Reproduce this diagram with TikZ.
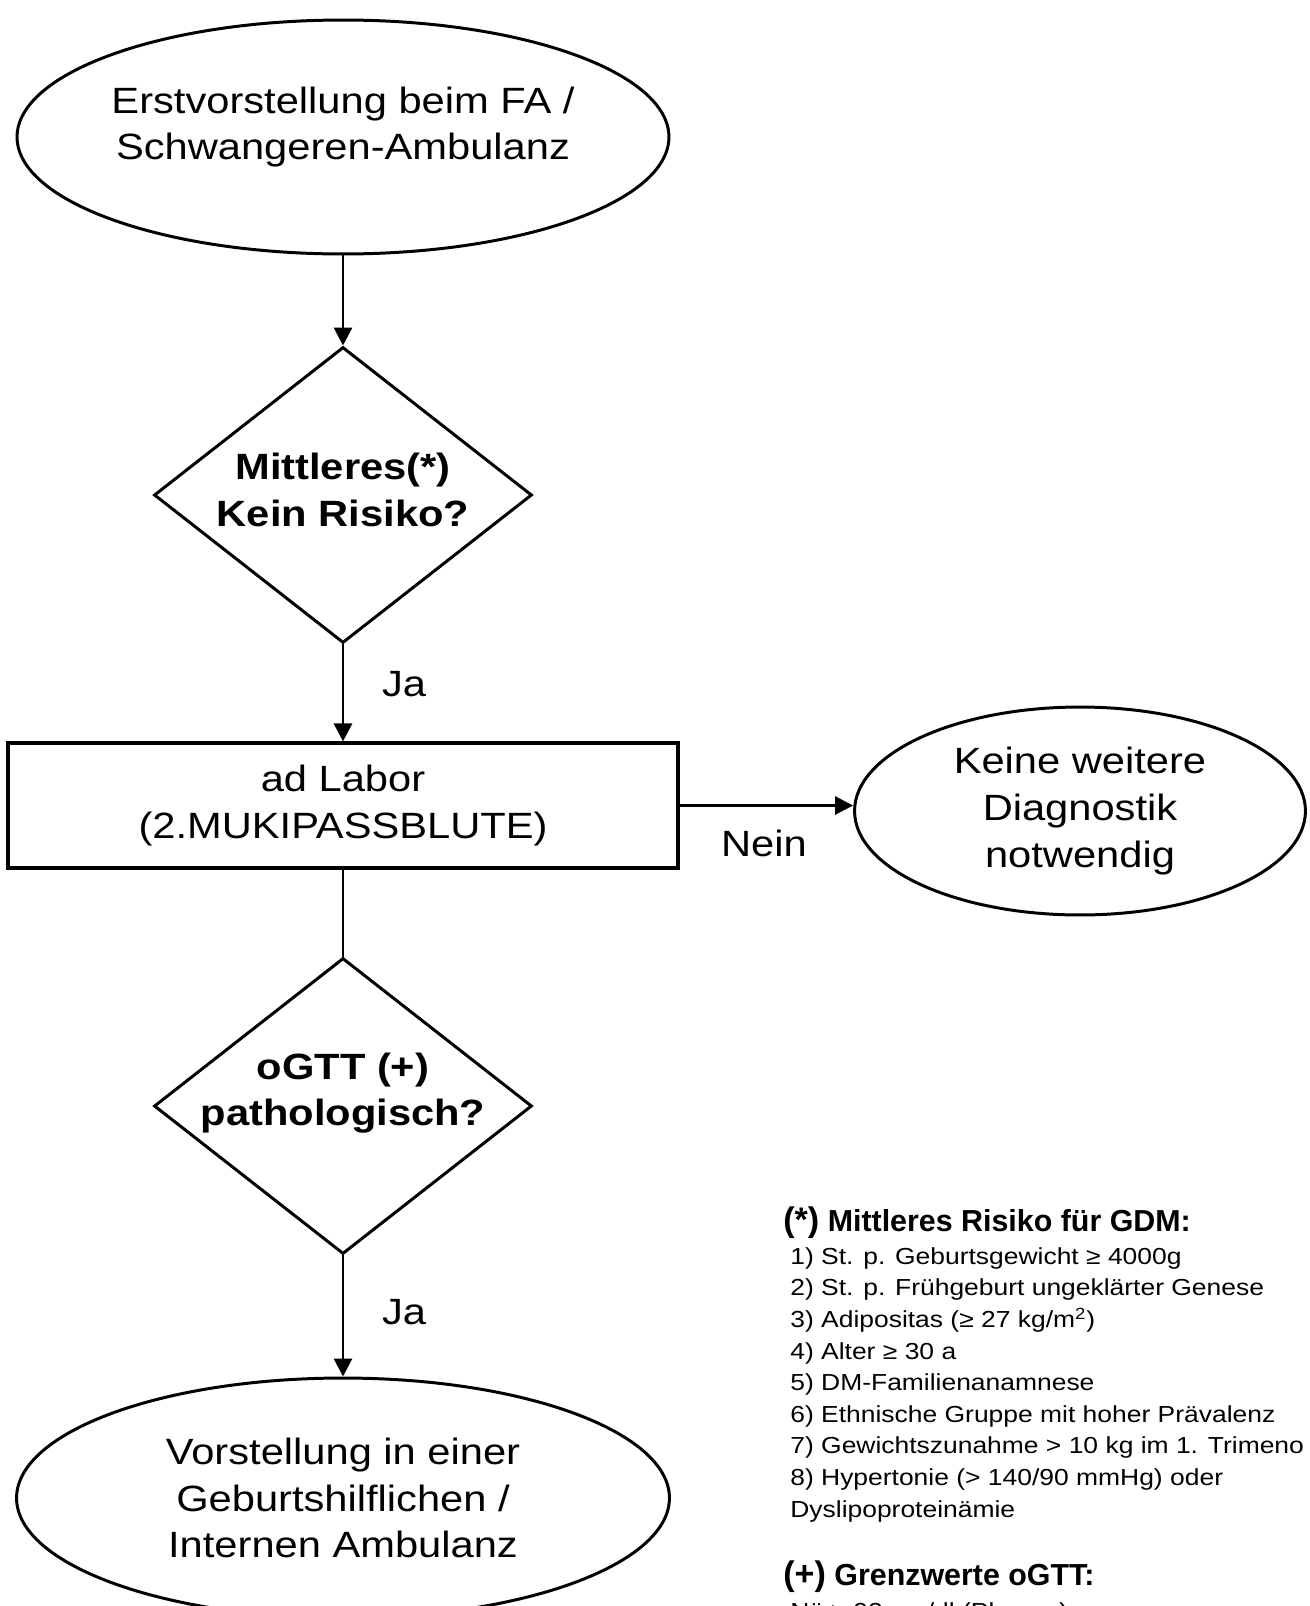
\documentclass[tikz,border=0pt]{standalone}
\usepackage{fontspec}
\setmainfont[FakeStretch=1.14]{Liberation Sans}
\newfontfamily\headfont{Liberation Sans}
\usepackage{tikz}
\usetikzlibrary{shapes, arrows.meta, positioning, calc}

\newcommand{\bigfont}{\fontsize{20.8pt}{26.6pt}\selectfont}
\newcommand{\listfont}{\fontsize{13.2pt}{18pt}\selectfont}
\newcommand{\notehead}{\headfont\fontsize{17.3pt}{20pt}\selectfont\bfseries}
\newcommand{\notemark}{\fontsize{19.4pt}{20pt}\selectfont}

\begin{document}
\begin{tikzpicture}[x=0.02cm, y=-0.02cm,
  oval/.style={draw, ellipse, line width=1.7pt, inner sep=0pt, align=center, font=\bigfont},
  decision/.style={draw, diamond, line width=1.7pt, inner sep=0pt, minimum width=7.56cm, minimum height=5.92cm},
  labbox/.style={draw, rectangle, line width=1.8pt, minimum width=13.4cm, minimum height=2.5cm, align=center, font=\bigfont},
  bigtext/.style={align=center, font=\bigfont},
  boldtext/.style={align=center, font=\bigfont\bfseries},
  flow/.style={line width=1.7pt, -{Triangle[length=0.36cm, width=0.36cm]}}]

  % Frame
  \path[use as bounding box] (0,0) rectangle (1309,1606);
  \clip (0,0) rectangle (1309,1606);

  % Start
  \node[oval, minimum width=13.04cm, minimum height=4.68cm] (start) at (343,137) {};
  \node[bigtext] (starttext) at (343,127) {Erstvorstellung beim FA /\\Schwangeren-Ambulanz};

  % First decision
  \node[decision] (q1) at (343,495) {};
  \node[boldtext] (q1text) at (343,490) {Mittleres(*)\\Kein Risiko?};

  % Lab
  \node[labbox] (lab) at (343,805.5) {ad Labor\\(2.MUKIPASSBLUTE)};
  \node[oval, minimum width=9.02cm, minimum height=4.16cm] (none) at (1080,811) {Keine weitere\\Diagnostik\\notwendig};

  % Second decision
  \node[decision] (q2) at (343,1106) {};
  \node[boldtext] (q2text) at (343,1093) {oGTT (+)\\pathologisch?};

  % End
  \node[oval, minimum width=13.06cm, minimum height=4.8cm] (visit) at (343,1498) {Vorstellung in einer\\Geburtshilflichen /\\Internen Ambulanz};

  % Connectors
  \draw[flow] (start) -- (q1);
  \draw[flow] (q1) -- (lab);
  \draw[flow] (lab.east) -- (lab.east -| none.west);
  \draw[line width=1.7pt] (lab) -- (q2);
  \draw[flow] (q2) -- (visit);

  % Branch labels
  \node[bigtext] (ja1) at (404,684) {Ja};
  \node[bigtext] (nein) at (764,843) {Nein};
  \node[bigtext] (ja2) at (404,1312) {Ja};

  % Notes
  \node[anchor=base west, inner sep=0pt, font=\notehead] (riskhead) at (783,1231) {{\notemark(*)} Mittleres Risiko für GDM:};
  \node[anchor=north west, inner sep=0pt, align=left, font=\listfont] (risklist) at (790,1247) {1) St. p. Geburtsgewicht ≥ 4000g\\2) St. p. Frühgeburt ungeklärter Genese\\3) Adipositas (≥ 27 kg/m\textsuperscript{2})\\4) Alter ≥ 30 a\\5) DM-Familienanamnese\\6) Ethnische Gruppe mit hoher Prävalenz\\7) Gewichtszunahme > 10 kg im 1. Trimeno\\8) Hypertonie (> 140/90 mmHg) oder\\Dyslipoproteinämie};
  \node[anchor=base west, inner sep=0pt, font=\notehead] (gtthead) at (783,1585) {{\notemark(+)} Grenzwerte oGTT:};
  \node[anchor=base west, inner sep=0pt, font=\listfont] (limits) at (790,1619) {Nü ≥ 92 mg/dl (Plasma)};
\end{tikzpicture}
\end{document}
